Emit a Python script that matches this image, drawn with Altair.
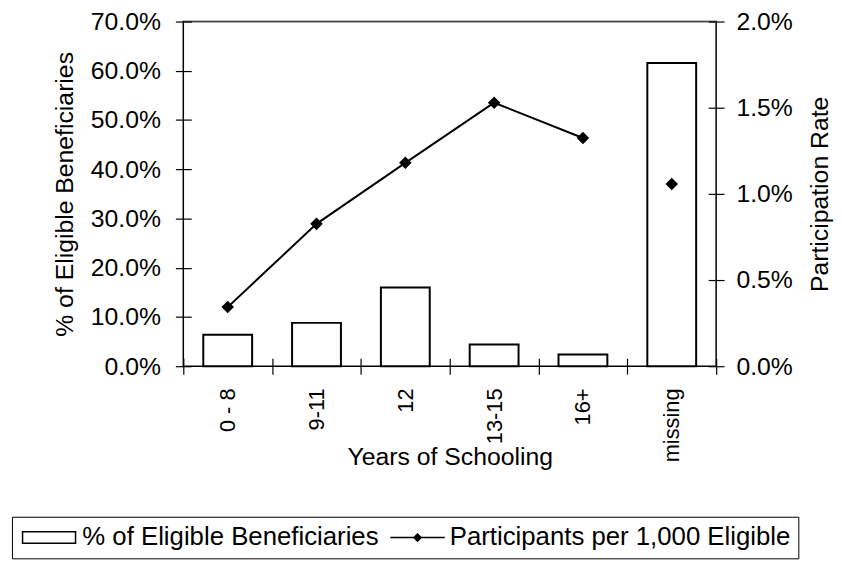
import altair as alt
import pandas as pd

categories = ["0 - 8", "9-11", "12", "13-15", "16+", "missing"]
pct_eligible = [0.064, 0.088, 0.160, 0.044, 0.024, 0.616]
participation = [0.00343, 0.00826, 0.0118, 0.01529, 0.01324, 0.01057]
line_members = [True, True, True, True, True, False]
series_names = ["% of Eligible Beneficiaries", "Participants per 1,000 Eligible"]
left_ticks = [0, 0.1, 0.2, 0.3, 0.4, 0.5, 0.6, 0.7]
right_ticks = [0, 0.005, 0.01, 0.015, 0.02]

df = pd.DataFrame({"cat": categories, "pct": pct_eligible, "rate": participation,
                   "joined": line_members})
legend_df = pd.DataFrame({"series": series_names})

FONT = "Liberation Sans"
FS = 25
W, H = 538, 348

x_axis = alt.Axis(title="Years of Schooling", labelAngle=270, tickBand="extent",
                  offset=-8, tickSize=16, domain=False, labelPadding=14,
                  labelFontSize=22,
                  titleX=W / 2, titleY=107, titleBaseline="alphabetic")
x_enc = alt.X("cat:N", sort=categories,
              scale=alt.Scale(paddingInner=0, paddingOuter=0), axis=x_axis)

bars = alt.Chart(df).mark_bar(width=alt.RelativeBandSize(0.55), fill="white",
                              stroke="black", strokeWidth=2).encode(
    x=x_enc,
    y=alt.Y("pct:Q", scale=alt.Scale(domain=[0, 0.7], nice=False),
            axis=alt.Axis(values=left_ticks, format=".1%", orient="left", offset=-8,
                          tickSize=16, domain=False, labelPadding=15,
                          title="% of Eligible Beneficiaries", titleAngle=270,
                          titleX=-120, titleY=H / 2, titleBaseline="alphabetic",
                          grid=True,
                          gridColor=alt.condition("datum.value > 0.69",
                                                  alt.value("#999999"),
                                                  alt.value("transparent"))))
)

rate_scale = alt.Scale(domain=[0, 0.02], nice=False)

line = alt.Chart(df).transform_filter("datum.joined").mark_line(
    color="black", strokeWidth=2).encode(
    x=x_enc,
    y=alt.Y("rate:Q", scale=rate_scale,
            axis=alt.Axis(orient="right", values=right_ticks, format=".1%", offset=-8,
                          tickSize=16, domain=False, labelPadding=12, grid=False,
                          title="Participation Rate", titleAngle=270, titleX=120,
                          titleY=H / 2, titleBaseline="alphabetic"))
)

points = alt.Chart(df).mark_point(shape="diamond", filled=True, color="black",
                                  size=160, opacity=1).encode(
    x=x_enc,
    y=alt.Y("rate:Q", scale=rate_scale, axis=None)
)

# legend glyphs drawn as filled outlines (outer ring + inner hole)
rect_path = ("M-0.85,-0.5L3.38,-0.5L3.38,0.5L-0.85,0.5Z"
             "M-0.735,-0.385L-0.735,0.385L3.265,0.385L3.265,-0.385Z")
line_path = ("M-0.77,-0.06L3.46,-0.06L3.46,0.06L-0.77,0.06Z"
             "M1.346,-0.36L1.706,0L1.346,0.36L0.986,0Z")

leg = alt.Legend(title=None, orient="none", legendX=-173, legendY=500,
                 direction="horizontal", symbolSize=676, symbolStrokeWidth=0,
                 symbolOpacity=1, labelFontSize=26,
                 labelFont=FONT, labelColor="black", labelLimit=1000,
                 strokeColor="black", padding=8, columnPadding=8, labelOffset=37,
                 fillColor="white", cornerRadius=0)

legend_layer = alt.Chart(legend_df).mark_point(opacity=0, filled=True).encode(
    fill=alt.Fill("series:N", scale=alt.Scale(domain=series_names,
                                               range=["black", "black"]), legend=leg),
    shape=alt.Shape("series:N", scale=alt.Scale(domain=series_names,
                                                 range=[rect_path, line_path]), legend=leg),
)

chart = alt.layer(bars, line, points, legend_layer).resolve_scale(
    y="independent"
).properties(
    width=W, height=H,
    padding={"left": 177, "top": 11, "right": 119, "bottom": 194},
    autosize=alt.AutoSizeParams(type="none"),
).configure_axis(
    labelFont=FONT, labelFontSize=FS, labelColor="black",
    titleFont=FONT, titleFontSize=FS, titleFontWeight="normal", titleColor="black",
    tickColor="black", tickWidth=1.2,
).configure_view(stroke="black", strokeWidth=1.5)

chart.save("out.html", embed_options={"renderer": "svg", "actions": False})
